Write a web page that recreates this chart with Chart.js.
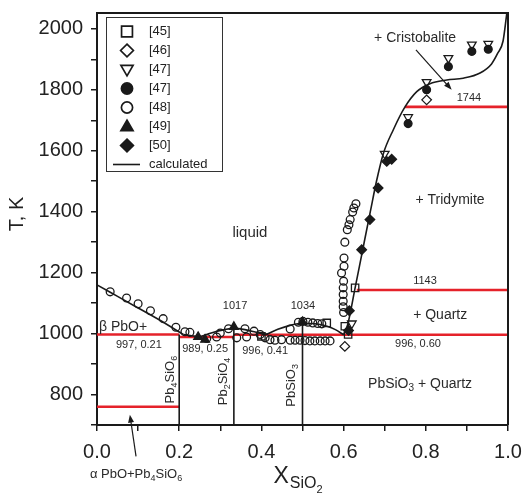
<!DOCTYPE html>
<html>
<head>
<meta charset="utf-8">
<script src="https://cdn.jsdelivr.net/npm/chart.js@4/dist/chart.umd.min.js"></script>
<style>
  html, body { margin: 0; padding: 0; background: #fff; }
  canvas { display: block; }
</style>
</head>
<body>
<canvas id="c" width="524" height="494"></canvas>
<script>
// ---- Calculated liquidus branches (x = mole fraction SiO2, T in K) ----
const liqPbO_X   = [0.00, 0.05, 0.10, 0.15, 0.21];
const liqPbO_T   = [1160, 1122, 1084, 1046, 997];
const liqPb4_X   = [0.21, 0.23, 0.25];
const liqPb4_T   = [997, 993, 989];
const liqPb2_X   = [0.25, 0.28, 0.31, 0.333, 0.36, 0.385, 0.41];
const liqPb2_T   = [989, 1003, 1013, 1017, 1013, 1005, 996];
const liqPbSi_X  = [0.41, 0.44, 0.47, 0.50, 0.53, 0.56, 0.58, 0.60];
const liqPbSi_T  = [996, 1014, 1027, 1034, 1032, 1024, 1013, 996];
const liqSiO2_X  = [0.600, 0.610, 0.628, 0.645, 0.665, 0.680, 0.697, 0.721, 0.749, 0.778, 0.810, 0.851, 0.891, 0.932, 0.960, 0.975, 0.988, 0.997];
const liqSiO2_T  = [996, 1030, 1150, 1265, 1400, 1500, 1592, 1669, 1743, 1794, 1820, 1832, 1838, 1855, 1885, 1920, 1960, 2050];

// ---- Invariant (horizontal) lines ----
const invT    = [997, 989, 996, 996, 1143, 1744, 760];
const invFrom = [0.00, 0.20, 0.333, 0.50, 0.632, 0.749, 0.00];
const invTo   = [0.20, 0.333, 0.50, 1.00, 1.00, 1.00, 0.20];

// ---- Compounds (vertical lines) ----
const cmpX   = [0.200, 0.333, 0.500];
const cmpTop = [997, 1017, 1034];

// ---- Experimental points ----
const ref45_X = [0.400, 0.559, 0.603, 0.611, 0.628];
const ref45_T = [991, 1035, 1024, 997, 1150];
const ref46_X = [0.603, 0.802];
const ref46_T = [958, 1767];
const ref47a_X = [0.620, 0.700, 0.757, 0.802, 0.855, 0.912, 0.952];
const ref47a_T = [1033, 1590, 1710, 1825, 1904, 1948, 1951];
const ref47b_X = [0.757, 0.802, 0.855, 0.912, 0.952];
const ref47b_T = [1689, 1800, 1876, 1926, 1933];
const ref48_X = [0.032, 0.072, 0.100, 0.130, 0.161, 0.192, 0.214, 0.226, 0.267, 0.291, 0.300, 0.320, 0.340,
                 0.360, 0.364, 0.382, 0.397, 0.409, 0.421, 0.433, 0.449, 0.470, 0.482, 0.494, 0.506, 0.518,
                 0.530, 0.543, 0.555, 0.567, 0.470, 0.490, 0.501, 0.513, 0.525, 0.537, 0.547,
                 0.600, 0.599, 0.599, 0.599, 0.599, 0.600, 0.595, 0.601, 0.601, 0.603, 0.609, 0.613, 0.616,
                 0.622, 0.625, 0.630];
const ref48_T = [1137, 1117, 1098, 1075, 1049, 1021, 1006, 1004, 984, 989, 1002, 1016, 986,
                 1016, 989, 1008, 997, 986, 980, 978, 980, 978, 978, 978, 977, 976,
                 976, 976, 976, 976, 1015, 1037, 1040, 1037, 1035, 1033, 1032,
                 1069, 1088, 1106, 1128, 1150, 1172, 1199, 1221, 1248, 1300, 1341, 1357, 1374,
                 1399, 1412, 1426];
const ref49_X = [0.246, 0.263, 0.333, 0.500];
const ref49_T = [989, 980, 1022, 1038];
const ref50_X = [0.612, 0.614, 0.644, 0.664, 0.684, 0.705, 0.717];
const ref50_T = [1010, 1075, 1275, 1374, 1478, 1565, 1572];

// ---- Axes ----
const xTickValues = [0, 0.1, 0.2, 0.3, 0.4, 0.5, 0.6, 0.7, 0.8, 0.9, 1.0];
const xTickLabels = ['0.0', '', '0.2', '', '0.4', '', '0.6', '', '0.8', '', '1.0'];
const yTickValues = [700, 800, 900, 1000, 1100, 1200, 1300, 1400, 1500, 1600, 1700, 1800, 1900, 2000];
const yTickLabels = ['', '800', '', '1000', '', '1200', '', '1400', '', '1600', '', '1800', '', '2000'];

const RED = '#e5222a';
const INK = '#1a1a1a';
const FONT = '"Liberation Sans", Arial, Helvetica, sans-serif';

const series = [
  { label: '[45]', x: ref45_X,  y: ref45_T,  shape: 'square',  filled: false },
  { label: '[46]', x: ref46_X,  y: ref46_T,  shape: 'diamond', filled: false },
  { label: '[47]', x: ref47a_X, y: ref47a_T, shape: 'triDown', filled: false },
  { label: '[47]', x: ref47b_X, y: ref47b_T, shape: 'circle',  filled: true },
  { label: '[48]', x: ref48_X,  y: ref48_T,  shape: 'circle',  filled: false },
  { label: '[49]', x: ref49_X,  y: ref49_T,  shape: 'triUp',   filled: true },
  { label: '[50]', x: ref50_X,  y: ref50_T,  shape: 'diamond', filled: true }
];
const branches = [
  [liqPbO_X, liqPbO_T], [liqPb4_X, liqPb4_T], [liqPb2_X, liqPb2_T],
  [liqPbSi_X, liqPbSi_T], [liqSiO2_X, liqSiO2_T]
];

// Text annotations placed in data coordinates
const notes = [
  { t: '+ Cristobalite', x: 0.774, y: 1970, size: 14 },
  { t: 'liquid', x: 0.372, y: 1331, size: 15 },
  { t: '+ Tridymite', x: 0.859, y: 1439, size: 14 },
  { t: '1744', x: 0.905, y: 1774, size: 11 },
  { t: '1143', x: 0.798, y: 1174, size: 11 },
  { t: '+ Quartz', x: 0.835, y: 1062, size: 14 },
  { t: '996, 0.60', x: 0.781, y: 967, size: 11 },
  { t: 'PbSiO_3 + Quartz', x: 0.786, y: 833, size: 14 },
  { t: '\u03b2 PbO+', x: 0.005, y: 1020, size: 14, align: 'left' },
  { t: '997, 0.21', x: 0.102, y: 961, size: 11 },
  { t: '989, 0.25', x: 0.263, y: 948, size: 11 },
  { t: '1017', x: 0.336, y: 1089, size: 11 },
  { t: '996, 0.41', x: 0.409, y: 944, size: 11 },
  { t: '1034', x: 0.501, y: 1092, size: 11 },
  { t: 'Pb_4SiO_6', x: 0.178, y: 849, size: 13, rot: -90 },
  { t: 'Pb_2SiO_4', x: 0.307, y: 843, size: 13, rot: -90 },
  { t: 'PbSiO_3', x: 0.474, y: 830, size: 13, rot: -90 },
  { t: '\u03b1 PbO+Pb_4SiO_6', x: 0.095, y: 538, size: 13 }
];
const arrows = [
  { x1: 0.776, y1: 1931, x2: 0.863, y2: 1800 },
  { x1: 0.095, y1: 597, x2: 0.080, y2: 734 }
];

function pts(xs, ys) { return xs.map((x, i) => ({ x: x, y: ys[i] })); }

const shapeStyle = {
  square:  { ps: 'rect', rot: 0, r: 5.2 },
  diamond: { ps: 'rectRot', rot: 0, r: 4.8 },
  triDown: { ps: 'triangle', rot: 180, r: 5 },
  triUp:   { ps: 'triangle', rot: 0, r: 5 },
  circle:  { ps: 'circle', rot: 0, r: 3.9 }
};

const datasets = [];
invT.forEach((t, i) => datasets.push({
  data: [{ x: invFrom[i], y: t }, { x: invTo[i], y: t }],
  showLine: true, borderColor: RED, borderWidth: 2.6, pointRadius: 0, order: 4
}));
cmpX.forEach((x, i) => datasets.push({
  data: [{ x: x, y: 700 }, { x: x, y: cmpTop[i] }],
  showLine: true, borderColor: INK, borderWidth: 1.6, pointRadius: 0, order: 3
}));
branches.forEach(b => datasets.push({
  data: pts(b[0], b[1]), showLine: true, borderColor: INK, borderWidth: 1.6,
  pointRadius: 0, cubicInterpolationMode: 'monotone', order: 2
}));
series.forEach(s => {
  const st = shapeStyle[s.shape];
  datasets.push({
    data: pts(s.x, s.y), showLine: false,
    pointStyle: st.ps, pointRotation: st.rot, pointRadius: st.r,
    pointBorderColor: INK, pointBackgroundColor: s.filled ? INK : 'rgba(255,255,255,0)',
    pointBorderWidth: 1.3, order: 1
  });
});

// Rich text: "_d" marks a one-character subscript
function drawRich(ctx, text, x, y, size, align, rot) {
  const segs = [];
  for (let i = 0; i < text.length; i++) {
    if (text[i] === '_' && i + 1 < text.length) { segs.push({ s: text[i + 1], sub: true }); i++; }
    else {
      if (segs.length && !segs[segs.length - 1].sub) segs[segs.length - 1].s += text[i];
      else segs.push({ s: text[i], sub: false });
    }
  }
  const subSize = Math.round(size * 0.72);
  let total = 0;
  segs.forEach(g => {
    ctx.font = (g.sub ? subSize : size) + 'px ' + FONT;
    g.w = ctx.measureText(g.s).width; total += g.w;
  });
  ctx.save();
  ctx.translate(x, y);
  if (rot) ctx.rotate(rot * Math.PI / 180);
  let cx = align === 'left' ? 0 : -total / 2;
  ctx.textBaseline = 'middle';
  ctx.textAlign = 'left';
  segs.forEach(g => {
    ctx.font = (g.sub ? subSize : size) + 'px ' + FONT;
    ctx.fillText(g.s, cx, g.sub ? size * 0.3 : 0);
    cx += g.w;
  });
  ctx.restore();
}

function drawArrow(ctx, x1, y1, x2, y2) {
  const a = Math.atan2(y2 - y1, x2 - x1), L = 8, W = 3;
  ctx.beginPath(); ctx.moveTo(x1, y1);
  ctx.lineTo(x2 - Math.cos(a) * L * 0.8, y2 - Math.sin(a) * L * 0.8); ctx.stroke();
  ctx.beginPath(); ctx.moveTo(x2, y2);
  ctx.lineTo(x2 - Math.cos(a) * L + Math.sin(a) * W, y2 - Math.sin(a) * L - Math.cos(a) * W);
  ctx.lineTo(x2 - Math.cos(a) * L - Math.sin(a) * W, y2 - Math.sin(a) * L + Math.cos(a) * W);
  ctx.closePath(); ctx.fill();
}

function drawMarker(ctx, shape, x, y, r, filled) {
  ctx.beginPath();
  if (shape === 'circle') ctx.arc(x, y, r, 0, Math.PI * 2);
  else if (shape === 'square') ctx.rect(x - r * 0.85, y - r * 0.85, r * 1.7, r * 1.7);
  else if (shape === 'diamond') { ctx.moveTo(x, y - r); ctx.lineTo(x + r, y); ctx.lineTo(x, y + r); ctx.lineTo(x - r, y); ctx.closePath(); }
  else if (shape === 'triUp') { ctx.moveTo(x, y - r); ctx.lineTo(x + r * 0.95, y + r * 0.65); ctx.lineTo(x - r * 0.95, y + r * 0.65); ctx.closePath(); }
  else if (shape === 'triDown') { ctx.moveTo(x, y + r); ctx.lineTo(x + r * 0.95, y - r * 0.65); ctx.lineTo(x - r * 0.95, y - r * 0.65); ctx.closePath(); }
  if (filled) { ctx.fillStyle = INK; ctx.fill(); }
  ctx.stroke();
}

const decor = {
  id: 'decor',
  afterDatasetsDraw(chart) {
    const ctx = chart.ctx, xs = chart.scales.x, ys = chart.scales.y, ca = chart.chartArea;
    ctx.save();
    // frame top and right
    ctx.strokeStyle = INK; ctx.lineWidth = 2;
    ctx.beginPath();
    ctx.moveTo(ca.left, ca.top); ctx.lineTo(ca.right, ca.top); ctx.lineTo(ca.right, ca.bottom);
    ctx.stroke();

    // annotations
    ctx.fillStyle = '#2a2a2a';
    notes.forEach(n => drawRich(ctx, n.t, xs.getPixelForValue(n.x), ys.getPixelForValue(n.y), n.size, n.align, n.rot));
    ctx.strokeStyle = INK; ctx.fillStyle = INK; ctx.lineWidth = 1.2;
    arrows.forEach(a => drawArrow(ctx, xs.getPixelForValue(a.x1), ys.getPixelForValue(a.y1),
                                  xs.getPixelForValue(a.x2), ys.getPixelForValue(a.y2)));

    // legend
    const lx = ca.left + 9, ly = ca.top + 4, lw = 116, rowH = 19;
    ctx.fillStyle = '#fff'; ctx.strokeStyle = '#333'; ctx.lineWidth = 1;
    ctx.fillRect(lx, ly, lw, rowH * 8 + 2);
    ctx.strokeRect(lx + 0.5, ly + 0.5, lw, rowH * 8 + 2);
    ctx.lineWidth = 1.7; ctx.strokeStyle = INK;
    series.forEach((s, i) => {
      const cy = ly + 14.5 + i * rowH;
      drawMarker(ctx, s.shape, lx + 21, cy, s.shape === 'circle' ? 5.6 : 6.4, s.filled);
      ctx.fillStyle = '#222';
      ctx.font = '13px ' + FONT; ctx.textAlign = 'left'; ctx.textBaseline = 'middle';
      ctx.fillText(s.label, lx + 43, cy);
    });
    const cyL = ly + 14.5 + 7 * rowH;
    ctx.beginPath(); ctx.lineWidth = 1.6; ctx.moveTo(lx + 7, cyL); ctx.lineTo(lx + 34, cyL); ctx.stroke();
    ctx.fillStyle = '#222'; ctx.fillText('calculated', lx + 43, cyL);

    // axis titles
    ctx.fillStyle = '#222';
    ctx.save();
    ctx.translate(ca.left - 80, (ca.top + ca.bottom) / 2 - 5);
    ctx.rotate(-Math.PI / 2);
    ctx.font = '20px ' + FONT; ctx.textAlign = 'center'; ctx.textBaseline = 'middle';
    ctx.fillText('T, K', 0, 0);
    ctx.restore();
    const tx = (ca.left + ca.right) / 2 - 29;
    ctx.textAlign = 'left'; ctx.textBaseline = 'alphabetic';
    ctx.font = '23px ' + FONT; ctx.fillText('X', tx, ca.bottom + 58);
    const wX = ctx.measureText('X').width;
    ctx.font = '16px ' + FONT; ctx.fillText('SiO', tx + wX + 1, ca.bottom + 63);
    const wS = ctx.measureText('SiO').width;
    ctx.font = '11px ' + FONT; ctx.fillText('2', tx + wX + 1 + wS, ca.bottom + 68);
    ctx.restore();
  }
};

new Chart(document.getElementById('c'), {
  type: 'scatter',
  data: { datasets: datasets },
  options: {
    responsive: false,
    animation: false,
    events: [],
    layout: { padding: { left: 0, right: 16, top: 13, bottom: 0 } },
    plugins: { legend: { display: false }, tooltip: { enabled: false } },
    scales: {
      x: {
        type: 'linear', min: 0, max: 1,
        afterBuildTicks: s => { s.ticks = xTickValues.map(v => ({ value: v })); },
        afterFit: s => { s.height = 69; s.paddingLeft = 0; s.paddingRight = 0; },
        ticks: {
          autoSkip: false, maxRotation: 0, padding: 9, color: '#222',
          font: { family: FONT, size: 20 },
          callback: (v, i) => xTickLabels[i]
        },
        grid: { drawOnChartArea: false, drawTicks: true, tickLength: 6, color: INK, lineWidth: 1.5 },
        border: { display: true, color: INK, width: 2 }
      },
      y: {
        type: 'linear', min: 700, max: 2052,
        afterBuildTicks: s => { s.ticks = yTickValues.map(v => ({ value: v })); },
        afterFit: s => { s.width = 97; s.paddingTop = 0; s.paddingBottom = 0; },
        ticks: {
          autoSkip: false, padding: 8, color: '#222',
          font: { family: FONT, size: 20 },
          callback: (v, i) => yTickLabels[i]
        },
        grid: { drawOnChartArea: false, drawTicks: true, tickLength: 6, color: INK, lineWidth: 1.5 },
        border: { display: true, color: INK, width: 2 }
      }
    }
  },
  plugins: [decor]
});
</script>
</body>
</html>
